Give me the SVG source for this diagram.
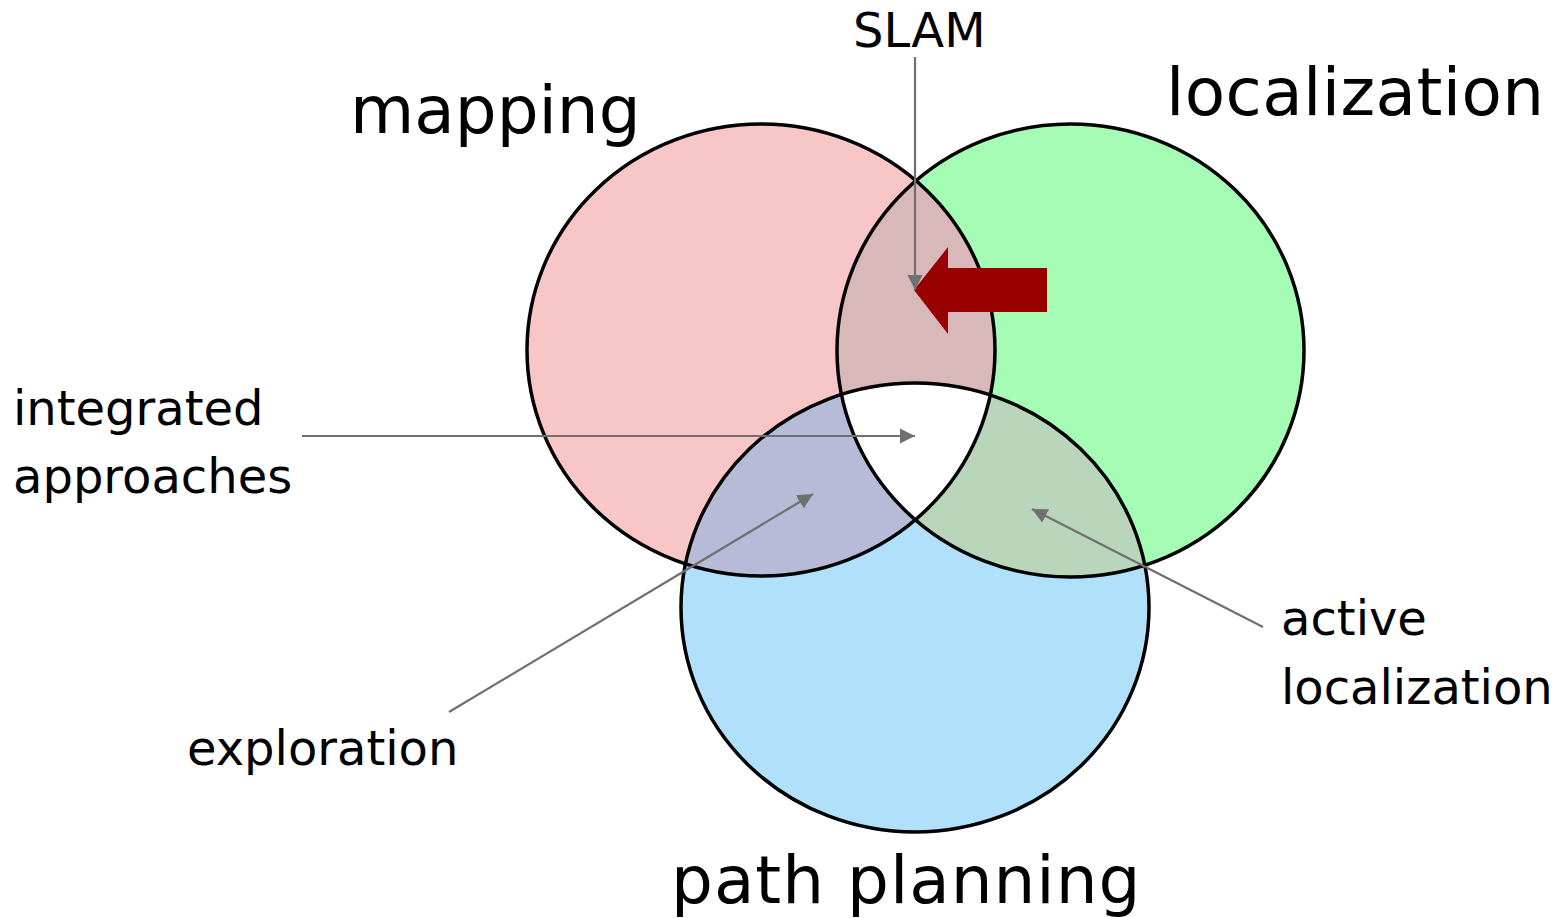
<svg xmlns="http://www.w3.org/2000/svg" width="1562" height="918" viewBox="0 0 1562 918">
<style>
.big{font-family:"DejaVu Sans",Verdana,sans-serif;font-size:66px;fill:#000}
.lbl{font-family:"DejaVu Sans",Verdana,sans-serif;font-size:48px;fill:#000}
.outline{fill:none;stroke:#000;stroke-width:3.5}
.conn{stroke:#707070;stroke-width:2.2;fill:none;marker-end:url(#ah)}
</style>
<defs>
<marker id="ah" viewBox="0 0 10 10" refX="10" refY="5" markerWidth="7" markerHeight="7" markerUnits="strokeWidth" orient="auto">
<path d="M0,0 L10,5 L0,10 z" fill="#707070"/>
</marker>
<clipPath id="cM"><ellipse cx="761" cy="350" rx="234" ry="226"/></clipPath>
<clipPath id="cL"><ellipse cx="1070.5" cy="350.5" rx="233.5" ry="226.5"/></clipPath>
</defs>
<rect width="1562" height="918" fill="#fff"/>
<g id="mapping">
<ellipse cx="761" cy="350" rx="234" ry="226" fill="#F8C6C6"/>
</g>
<g id="localization">
<ellipse cx="1070.5" cy="350.5" rx="233.5" ry="226.5" fill="#A5FDB5"/>
</g>
<g id="pathplanning">
<ellipse cx="915" cy="607.5" rx="234" ry="224.5" fill="#B1E0FB"/>
</g>
<g id="overlaps">
<ellipse cx="1070.5" cy="350.5" rx="233.5" ry="226.5" fill="#D8B8B8" clip-path="url(#cM)"/>
<ellipse cx="915" cy="607.5" rx="234" ry="224.5" fill="#B8BBD8" clip-path="url(#cM)"/>
<ellipse cx="915" cy="607.5" rx="234" ry="224.5" fill="#BAD6BA" clip-path="url(#cL)"/>
<g clip-path="url(#cM)"><ellipse cx="915" cy="607.5" rx="234" ry="224.5" fill="#FFFFFF" clip-path="url(#cL)"/></g>
</g>
<g id="outlines">
<ellipse class="outline" cx="761" cy="350" rx="234" ry="226"/>
<ellipse class="outline" cx="1070.5" cy="350.5" rx="233.5" ry="226.5"/>
<ellipse class="outline" cx="915" cy="607.5" rx="234" ry="224.5"/>
</g>
<g id="red-arrow">
<path d="M914,290 L948,247 L948,268 L1047,268 L1047,312 L948,312 L948,334 z" fill="#990000"/>
</g>
<g id="connectors">
<line class="conn" x1="915" y1="57" x2="915" y2="290"/>
<line class="conn" x1="302" y1="436" x2="915" y2="436"/>
<line class="conn" x1="449" y1="712" x2="813" y2="494"/>
<line class="conn" x1="1263" y1="627" x2="1032" y2="509"/>
</g>
<g id="labels">
<text class="big" x="350" y="133">mapping</text>
<text class="big" x="1166" y="115" style="letter-spacing:0.4px">localization</text>
<text class="big" x="671" y="903" style="letter-spacing:1px">path planning</text>
<text class="lbl" x="853" y="47">SLAM</text>
<text class="lbl" x="13" y="425">integrated</text>
<text class="lbl" x="13" y="493">approaches</text>
<text class="lbl" x="187" y="765">exploration</text>
<text class="lbl" x="1281" y="635">active</text>
<text class="lbl" x="1281" y="704">localization</text>
</g>
</svg>
